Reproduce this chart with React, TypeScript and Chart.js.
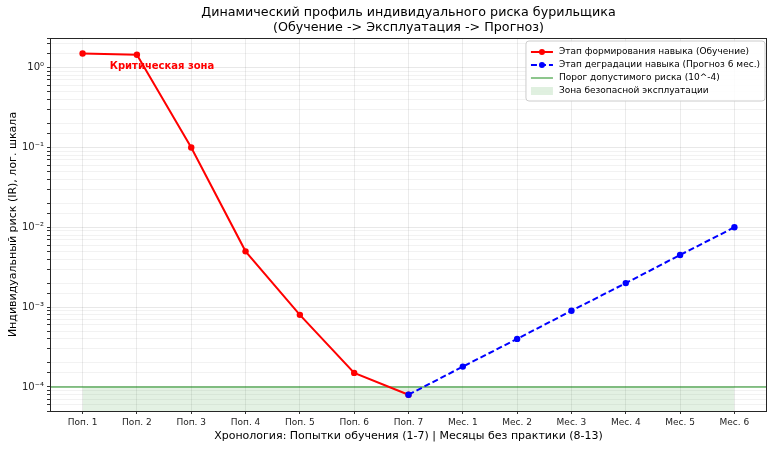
import { useEffect, useRef } from "react"
import { Chart, registerables } from "chart.js"

Chart.register(...registerables)

// Chart data
const ATTEMPT_LABELS = ["Поп. 1", "Поп. 2", "Поп. 3", "Поп. 4", "Поп. 5", "Поп. 6", "Поп. 7"]
const MONTH_LABELS = ["Мес. 1", "Мес. 2", "Мес. 3", "Мес. 4", "Мес. 5", "Мес. 6"]
const X_LABELS = [...ATTEMPT_LABELS, ...MONTH_LABELS]

const TRAINING_RISK = [1.5, 1.45, 0.1, 0.005, 0.0008, 0.00015, 0.00008]
// forecast starts at the last training attempt (Поп. 7)
const FORECAST_RISK = [0.00008, 0.00018, 0.0004, 0.0009, 0.002, 0.0045, 0.01]
const THRESHOLD = 1e-4

const Y_MAJOR_TICKS = [1, 0.1, 0.01, 0.001, 0.0001]
const Y_TICK_LABELS = ["10⁰", "10⁻¹", "10⁻²", "10⁻³", "10⁻⁴"]

const X_MIN = -0.6
const X_MAX = X_LABELS.length - 1 + 0.6
const Y_MIN = 5e-5
const Y_MAX = 2.35

const FONT = "'DejaVu Sans', sans-serif"

const LEGEND_ITEMS = [
  { text: "Этап формирования навыка (Обучение)", kind: "line", color: "#ff0000", dash: [] as number[], marker: true },
  { text: "Этап деградации навыка (Прогноз 6 мес.)", kind: "line", color: "#0000ff", dash: [6, 3], marker: true },
  { text: "Порог допустимого риска (10^-4)", kind: "line", color: "rgba(0,128,0,0.6)", dash: [], marker: false },
  { text: "Зона безопасной эксплуатации", kind: "patch", color: "rgba(0,128,0,0.12)", dash: [], marker: false },
]

const isMajor = (v: number) => Y_MAJOR_TICKS.findIndex((m) => Math.abs(v - m) / m < 1e-6)

const framePlugin = {
  id: "frame",
  afterDraw(chart: Chart) {
    const { ctx, chartArea: a } = chart
    ctx.save()
    ctx.strokeStyle = "#262626"
    ctx.lineWidth = 1
    ctx.strokeRect(Math.round(a.left) + 0.5, Math.round(a.top) + 0.5, Math.round(a.right - a.left) - 1, Math.round(a.bottom - a.top))
    ctx.restore()
  },
}

const textPlugin = {
  id: "texts",
  afterDraw(chart: Chart) {
    const { ctx, chartArea: a, scales } = chart
    ctx.save()
    // title
    ctx.fillStyle = "#000"
    ctx.textAlign = "center"
    ctx.textBaseline = "middle"
    ctx.font = `12.7px ${FONT}`
    const cx = (a.left + a.right) / 2
    ctx.fillText("Динамический профиль индивидуального риска бурильщика", cx, 13)
    ctx.fillText("(Обучение -> Эксплуатация -> Прогноз)", cx, 28)

    // annotation
    ctx.fillStyle = "#ff0000"
    ctx.textAlign = "left"
    ctx.textBaseline = "alphabetic"
    ctx.font = `bold 10px ${FONT}`
    ctx.fillText("Критическая зона", scales.x.getPixelForValue(0.5), scales.y.getPixelForValue(1) + 1)

    // legend
    ctx.font = `9px ${FONT}`
    const pad = 5
    const handle = 22
    const rowH = 13
    const textW = Math.max(...LEGEND_ITEMS.map((i) => ctx.measureText(i.text).width))
    const w = pad + handle + 6 + textW + pad
    const h = 4 + rowH * LEGEND_ITEMS.length + 4
    const x0 = a.right - 2 - w
    const y0 = a.top + 3
    ctx.beginPath()
    ctx.roundRect(x0, y0, w, h, 3)
    ctx.fillStyle = "rgba(255,255,255,0.85)"
    ctx.fill()
    ctx.strokeStyle = "#cccccc"
    ctx.lineWidth = 1
    ctx.stroke()
    LEGEND_ITEMS.forEach((item, i) => {
      const y = y0 + 4 + rowH * i + rowH / 2 + 0.5
      const hx = x0 + pad
      if (item.kind === "patch") {
        ctx.fillStyle = item.color
        ctx.fillRect(hx, y - 4, handle, 8)
      } else {
        ctx.strokeStyle = item.color
        ctx.lineWidth = item.marker ? 2 : 1.5
        ctx.setLineDash(item.dash)
        ctx.beginPath()
        ctx.moveTo(hx, y)
        ctx.lineTo(hx + handle, y)
        ctx.stroke()
        ctx.setLineDash([])
        if (item.marker) {
          ctx.fillStyle = item.color
          ctx.beginPath()
          ctx.arc(hx + handle / 2, y, 3, 0, Math.PI * 2)
          ctx.fill()
        }
      }
      ctx.fillStyle = "#000"
      ctx.textBaseline = "middle"
      ctx.fillText(item.text, hx + handle + 6, y)
    })
    ctx.restore()
  },
}

export default function App() {
  const chartRef = useRef<HTMLCanvasElement>(null)
  const chartInstance = useRef<Chart | null>(null)

  useEffect(() => {
    if (!chartRef.current) return
    document.body.style.margin = "0"

    if (chartInstance.current) {
      chartInstance.current.destroy()
    }

    const training = TRAINING_RISK.map((y, i) => ({ x: i, y }))
    const forecast = FORECAST_RISK.map((y, i) => ({ x: ATTEMPT_LABELS.length - 1 + i, y }))
    const zone = X_LABELS.map((_, i) => ({ x: i, y: THRESHOLD }))
    const threshold = [
      { x: X_MIN, y: THRESHOLD },
      { x: X_MAX, y: THRESHOLD },
    ]

    const ctx = chartRef.current.getContext("2d")
    if (!ctx) return

    chartInstance.current = new Chart(ctx, {
      type: "line",
      data: {
        datasets: [
          {
            label: "Этап деградации навыка (Прогноз 6 мес.)",
            data: forecast,
            borderColor: "#0000ff",
            backgroundColor: "#0000ff",
            borderWidth: 2,
            borderDash: [6, 3],
            pointRadius: 3.2,
            pointBorderWidth: 0,
            order: 0,
          },
          {
            label: "Этап формирования навыка (Обучение)",
            data: training,
            borderColor: "#ff0000",
            backgroundColor: "#ff0000",
            borderWidth: 2,
            pointRadius: 3.2,
            pointBorderWidth: 0,
            order: 1,
          },
          {
            label: "Порог допустимого риска (10^-4)",
            data: threshold,
            borderColor: "rgba(0,128,0,0.6)",
            borderWidth: 1.5,
            pointRadius: 0,
            order: 2,
          },
          {
            label: "Зона безопасной эксплуатации",
            data: zone,
            borderWidth: 0,
            borderColor: "rgba(0,0,0,0)",
            backgroundColor: "rgba(0,128,0,0.11)",
            fill: "start",
            pointRadius: 0,
            order: 3,
          },
        ],
      },
      options: {
        responsive: true,
        maintainAspectRatio: false,
        animation: false,
        layout: { padding: { top: 38, right: 6, left: 0, bottom: 0 } },
        plugins: {
          legend: { display: false },
          title: { display: false },
          tooltip: { enabled: false },
        },
        scales: {
          x: {
            type: "linear",
            min: X_MIN,
            max: X_MAX,
            afterBuildTicks: (scale) => {
              scale.ticks = X_LABELS.map((_, i) => ({ value: i }))
            },
            afterFit: (scale) => {
              scale.height = 38
            },
            ticks: {
              autoSkip: false,
              maxRotation: 0,
              padding: 3,
              color: "#222",
              font: { family: FONT, size: 9 },
              callback: (value) => X_LABELS[Number(value)] ?? "",
            },
            grid: {
              color: "rgba(0,0,0,0.08)",
              tickColor: "#333",
              tickLength: 3,
            },
            border: { display: false },
            title: {
              display: true,
              text: "Хронология: Попытки обучения (1-7) | Месяцы без практики (8-13)",
              color: "#000",
              font: { family: FONT, size: 11 },
              padding: { top: 0, bottom: 6 },
            },
          },
          y: {
            type: "logarithmic",
            min: Y_MIN,
            max: Y_MAX,
            afterFit: (scale) => {
              scale.width = 50
            },
            ticks: {
              autoSkip: false,
              padding: 3,
              color: "#222",
              font: { family: FONT, size: 10 },
              callback: (value) => {
                const idx = isMajor(Number(value))
                return idx >= 0 ? Y_TICK_LABELS[idx] : ""
              },
            },
            grid: {
              color: (c) => (isMajor(c.tick.value) >= 0 ? "rgba(0,0,0,0.09)" : "rgba(0,0,0,0.05)"),
              tickColor: "#333",
              tickLength: 3,
            },
            border: { display: false },
            title: {
              display: true,
              text: "Индивидуальный риск (IR), лог. шкала",
              color: "#000",
              font: { family: FONT, size: 11 },
              padding: { top: 7, bottom: 0 },
            },
          },
        },
      },
      plugins: [framePlugin, textPlugin],
    })

    return () => {
      if (chartInstance.current) {
        chartInstance.current.destroy()
        chartInstance.current = null
      }
    }
  }, [])

  return (
    <div style={{ width: 773, height: 449, position: "relative", background: "#fff" }}>
      <canvas ref={chartRef} />
    </div>
  )
}
